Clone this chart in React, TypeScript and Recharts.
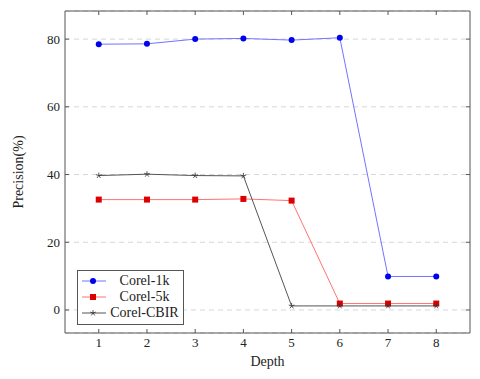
import React from 'react';
import { LineChart, Line, XAxis, YAxis, CartesianGrid, Legend } from 'recharts';

const depths = [1, 2, 3, 4, 5, 6, 7, 8];
const corel1k = [78.5, 78.6, 80.0, 80.2, 79.7, 80.4, 9.9, 9.9];
const corel5k = [32.6, 32.6, 32.6, 32.8, 32.3, 1.9, 1.9, 1.9];
const corelCbir = [39.7, 40.1, 39.7, 39.6, 1.2, 1.2, 1.2, 1.2];
const yTicks = [0, 20, 40, 60, 80];

const FONT = '"Liberation Serif", "Times New Roman", serif';
const AXIS = '#555';

const data = depths.map((d, i) => ({
  depth: d,
  c1k: corel1k[i],
  c5k: corel5k[i],
  cbir: corelCbir[i],
}));

// the CBIR series sits on the mirrored top/right axes so that they get drawn (same domains)
const series = [
  { key: 'c1k', name: 'Corel-1k', line: '#7373ff', mark: 'circle', xId: 0, yId: 0 },
  { key: 'c5k', name: 'Corel-5k', line: '#ff7373', mark: 'square', xId: 0, yId: 0 },
  { key: 'cbir', name: 'Corel-CBIR', line: '#555555', mark: 'star', xId: 'top', yId: 'right' },
];

const Marker = ({ kind, cx, cy }: { kind: string; cx: number; cy: number }) => {
  if (kind === 'circle') return <circle cx={cx} cy={cy} r={3} fill="#0000f0" />;
  if (kind === 'square') return <rect x={cx - 3} y={cy - 3} width={6} height={6} fill="#dd0000" />;
  // five-armed star
  const arms = [0, 1, 2, 3, 4].map((k) => {
    const a = (-90 + k * 72) * Math.PI / 180;
    return <line key={k} x1={cx} y1={cy} x2={cx + 3 * Math.cos(a)} y2={cy + 3 * Math.sin(a)} stroke="#333" strokeWidth={0.8} />;
  });
  return <g>{arms}</g>;
};

const dotFor = (kind: string) => (props: any) => (
  <Marker key={props.key ?? `${kind}-${props.index}`} kind={kind} cx={props.cx} cy={props.cy} />
);

const BottomTick = ({ x, y, payload }: any) => (
  <g>
    <line x1={x} x2={x} y1={y} y2={y - 4} stroke={AXIS} />
    <text x={x} y={y + 14} textAnchor="middle" fontFamily={FONT} fontSize={13} fill="#222">{payload.value}</text>
  </g>
);
const TopTick = ({ x, y }: any) => <line x1={x} x2={x} y1={y} y2={y + 4} stroke={AXIS} />;
const LeftTick = ({ x, y, payload }: any) => (
  <g>
    <line x1={x} x2={x + 4} y1={y} y2={y} stroke={AXIS} />
    <text x={x - 5} y={y + 4.5} textAnchor="end" fontFamily={FONT} fontSize={13} fill="#222">{payload.value}</text>
  </g>
);
const RightTick = ({ x, y }: any) => <line x1={x} x2={x - 4} y1={y} y2={y} stroke={AXIS} />;

const LegendBox = () => (
  <div style={{ border: '1px solid #555', background: '#fff', padding: '2px 0 3px 4px', fontFamily: FONT, fontSize: 14, color: '#222' }}>
    {series.map((s) => (
      <div key={s.key} style={{ display: 'flex', alignItems: 'center', height: 16 }}>
        <svg width={24} height={16}>
          <line x1={0} x2={24} y1={8} y2={8} stroke={s.line} />
          <Marker kind={s.mark} cx={11} cy={8} />
        </svg>
        <span style={{ width: 77, textAlign: 'center', lineHeight: '16px' }}>{s.name}</span>
      </div>
    ))}
  </div>
);

export default function App() {
  return (
    <div style={{ position: 'absolute', left: 0, top: 0, background: '#fff' }}>
      <LineChart width={480} height={379} data={data} margin={{ top: 10, right: 9, bottom: 16, left: 0 }}>
        <CartesianGrid vertical={false} stroke="#d6d6d6" strokeDasharray="5 4" />
        <XAxis
          dataKey="depth"
          type="number"
          domain={[0.3, 8.7]}
          ticks={depths}
          height={30}
          tickSize={0}
          tickMargin={0}
          tickLine={false}
          axisLine={{ stroke: AXIS }}
          tick={<BottomTick />}
          label={({ viewBox }: any) => (
            <text x={viewBox.x + viewBox.width / 2} y={viewBox.y + 33} textAnchor="middle" fontFamily={FONT} fontSize={14} fill="#222">Depth</text>
          )}
        />
        <XAxis
          xAxisId="top"
          orientation="top"
          dataKey="depth"
          type="number"
          domain={[0.3, 8.7]}
          ticks={depths}
          height={1}
          tickSize={0}
          tickMargin={0}
          tickLine={false}
          axisLine={{ stroke: AXIS }}
          tick={<TopTick />}
        />
        <YAxis
          type="number"
          domain={[-6.8, 88.3]}
          ticks={yTicks}
          width={65}
          tickSize={0}
          tickMargin={0}
          tickLine={false}
          axisLine={{ stroke: AXIS }}
          tick={<LeftTick />}
          label={({ viewBox }: any) => {
            const cx = viewBox.x + 18;
            const cy = viewBox.y + viewBox.height / 2;
            return (
              <text x={cx} y={cy} transform={`rotate(-90 ${cx} ${cy})`} textAnchor="middle" dominantBaseline="central" fontFamily={FONT} fontSize={14} fill="#222">Precision(%)</text>
            );
          }}
        />
        <YAxis
          yAxisId="right"
          orientation="right"
          type="number"
          domain={[-6.8, 88.3]}
          ticks={yTicks}
          width={1}
          tickSize={0}
          tickMargin={0}
          tickLine={false}
          axisLine={{ stroke: AXIS }}
          tick={<RightTick />}
        />
        {series.map((s) => (
          <Line
            key={s.key}
            xAxisId={s.xId}
            yAxisId={s.yId}
            dataKey={s.key}
            name={s.name}
            stroke={s.line}
            strokeWidth={1}
            dot={dotFor(s.mark)}
            activeDot={false}
            isAnimationActive={false}
          />
        ))}
        <Legend
          layout="vertical"
          align="center"
          verticalAlign="middle"
          content={<LegendBox />}
          wrapperStyle={{ left: 77, top: 270, width: 'auto' }}
        />
      </LineChart>
    </div>
  );
}
